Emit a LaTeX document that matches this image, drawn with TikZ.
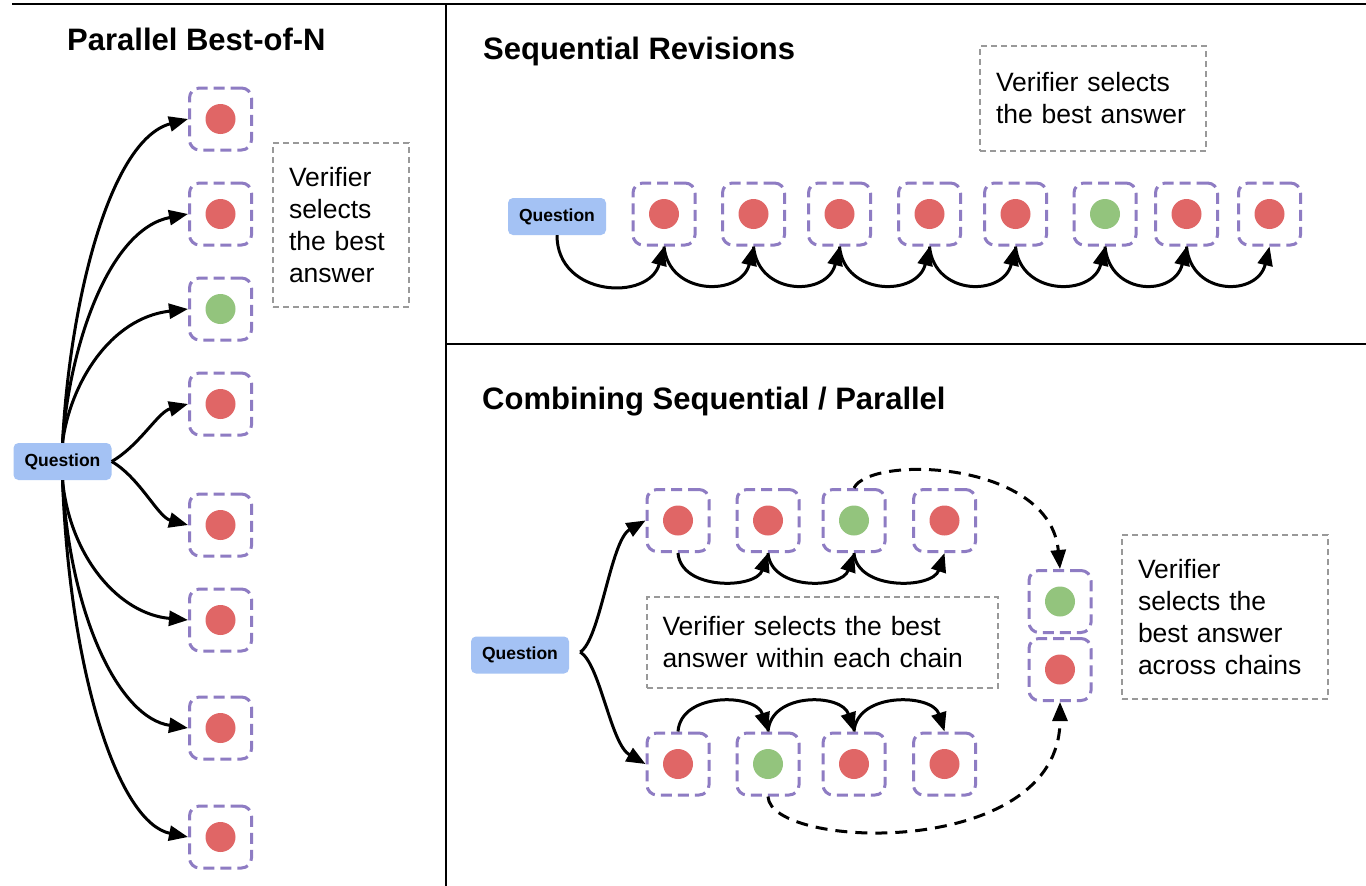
\documentclass[tikz,border=0pt]{standalone}
\usepackage{fontspec}
\setmainfont{Liberation Sans}
\usetikzlibrary{arrows.meta}
\definecolor{ansred}{HTML}{E06666}
\definecolor{ansgreen}{HTML}{93C47D}
\definecolor{boxpurple}{HTML}{8E7CC3}
\definecolor{qblue}{HTML}{A4C2F4}
\definecolor{notegray}{HTML}{999999}
\begin{document}
\begin{tikzpicture}[x=1pt,y=-1pt,
  ansbox/.style={draw=boxpurple, line width=3pt, dash pattern=on 11pt off 6pt,
    rounded corners=10pt, minimum width=62pt, minimum height=62pt, inner sep=0pt},
  badans/.style={ansbox, path picture={\fill[ansred] (path picture bounding box.center) circle (15pt);}},
  goodans/.style={ansbox, path picture={\fill[ansgreen] (path picture bounding box.center) circle (15pt);}},
  qnode/.style={fill=qblue, rounded corners=5pt, minimum width=98pt, minimum height=37pt,
    inner sep=0pt, font=\fontsize{17.5}{20}\selectfont\bfseries},
  notebox/.style={draw=notegray, line width=2pt, dash pattern=on 6pt off 4pt, align=left,
    inner xsep=16pt, font=\fontsize{26.5}{32}\selectfont},
  paneltitle/.style={anchor=base west, inner sep=0pt, font=\fontsize{31}{37}\selectfont\bfseries},
  flowarrow/.style={line width=3pt, -{Triangle[length=19pt,width=15pt]}},
  dashedflow/.style={flowarrow, dash pattern=on 12pt off 8pt},
  panelrule/.style={line width=2.5pt}
]
\useasboundingbox (0,0) rectangle (1366,886);
\fill[white] (0,0) rectangle (1366,886);

% panel separators
\draw[panelrule] (12,4) -- (1366,4);
\draw[panelrule] (446,4) -- (446,886);
\draw[panelrule] (446,344) -- (1366,344);

% ---------- Parallel Best-of-N ----------
\node[paneltitle] (t1) at (67,50) {Parallel Best-of-N};
\node[qnode] (q1) at (62.5,461.5) {Question};
\node[badans]  (p1) at (220.5,119) {};
\node[badans]  (p2) at (220.5,214) {};
\node[goodans] (p3) at (220.5,309) {};
\node[badans]  (p4) at (220.5,404) {};
\node[badans]  (p5) at (220.5,525) {};
\node[badans]  (p6) at (220.5,620) {};
\node[badans]  (p7) at (220.5,728) {};
\node[badans]  (p8) at (220.5,837) {};
\node[notebox, text width=104pt, minimum height=164pt] (v1) at (341,225)
  {Verifier\\selects\\the best\\answer};

\draw[flowarrow] (q1.north) .. controls (70,300) and (110,140) .. (p1.west);
\draw[flowarrow] (q1.north) .. controls (70,342) and (110,229) .. (p2.west);
\draw[flowarrow] (q1.north) .. controls (70,384) and (110,318) .. (p3.west);
\draw[flowarrow] (q1.east) .. controls (140,445) and (158,412) .. (p4.west);
\draw[flowarrow] (q1.east) .. controls (140,478) and (158,517) .. (p5.west);
\draw[flowarrow] (q1.south) .. controls (70,557) and (119,614) .. (p6.west);
\draw[flowarrow] (q1.south) .. controls (70,616) and (119,718) .. (p7.west);
\draw[flowarrow] (q1.south) .. controls (70,676) and (119,823) .. (p8.west);

% ---------- Sequential Revisions ----------
\node[paneltitle] (t2) at (483,59) {Sequential Revisions};
\node[qnode] (q2) at (557,216.5) {Question};
\node[badans]  (s1) at (664,214) {};
\node[badans]  (s2) at (753.5,214) {};
\node[badans]  (s3) at (839.5,214) {};
\node[badans]  (s4) at (929.5,214) {};
\node[badans]  (s5) at (1015.5,214) {};
\node[goodans] (s6) at (1105,214) {};
\node[badans]  (s7) at (1186.5,214) {};
\node[badans]  (s8) at (1269.5,214) {};
\node[notebox, text width=194pt, minimum height=105pt] (v2) at (1093,98.5)
  {Verifier selects\\the best answer};

\draw[flowarrow] (q2.south) .. controls +(0,62) and +(-15,55) .. (s1.south);
\foreach \a/\b in {s1/s2,s2/s3,s3/s4,s4/s5,s5/s6,s6/s7,s7/s8}
  \draw[flowarrow] (\a.south) .. controls +(5,50) and +(-12,50) .. (\b.south);

% ---------- Combining Sequential / Parallel ----------
\node[paneltitle] (t3) at (482,409) {Combining Sequential / Parallel};
\node[qnode] (q3) at (520,655) {Question};
\node[badans]  (a1) at (678,520.5) {};
\node[badans]  (a2) at (768,520.5) {};
\node[goodans] (a3) at (854,520.5) {};
\node[badans]  (a4) at (944.5,520.5) {};
\node[badans]  (b1) at (678,764) {};
\node[goodans] (b2) at (768,764) {};
\node[badans]  (b3) at (854,764) {};
\node[badans]  (b4) at (944.5,764) {};
\node[goodans] (c1) at (1060,601.5) {};
\node[badans]  (c2) at (1060,669.5) {};
\node[notebox, text width=319pt, minimum height=91pt] (v3) at (822,642.5)
  {Verifier selects the best\\answer within each chain};
\node[notebox, text width=174pt, minimum height=164pt] (v4) at (1225,617)
  {Verifier\\selects the\\best answer\\across chains};

\coordinate (fork) at ([xshift=11pt,yshift=3pt]q3.east);
\draw[flowarrow] (fork) .. controls +(20,-12) and +(-35,20) .. (a1.west);
\draw[flowarrow] (fork) .. controls +(20,12) and +(-35,-20) .. (b1.west);
\foreach \a/\b in {a1/a2,a2/a3,a3/a4}
  \draw[flowarrow] (\a.south) .. controls +(3,38) and +(-12,36) .. (\b.south);
\foreach \a/\b in {b1/b2,b2/b3,b3/b4}
  \draw[flowarrow] (\a.north) .. controls +(3,-40) and +(-12,-38) .. (\b.north);
\draw[dashedflow] (a3.north) .. controls (870,455) and (1050,460) .. (c1.north);
\draw[dashedflow] (b2.south) .. controls (770,850) and (1060,860) .. (c2.south);
\end{tikzpicture}
\end{document}
